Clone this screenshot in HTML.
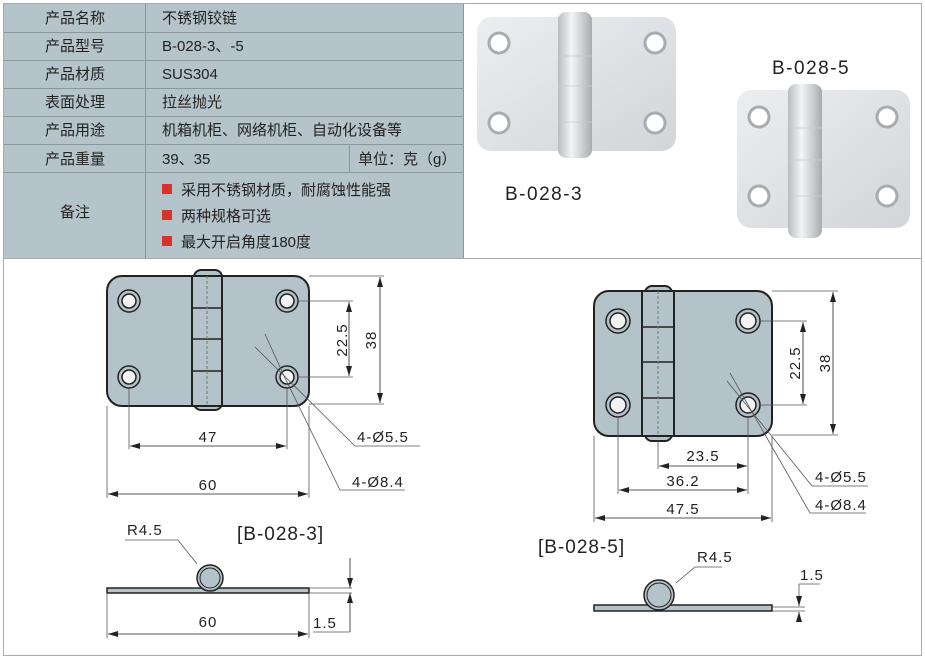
<!DOCTYPE html>
<html><head><meta charset="utf-8"><style>
body{margin:0;background:#fff;}
svg{display:block;font-family:"Liberation Sans","Noto Sans CJK SC",sans-serif;}
</style></head><body>
<svg width="925" height="662" viewBox="0 0 925 662" xmlns="http://www.w3.org/2000/svg">
<defs>
<marker id="a" viewBox="0 0 10 6" refX="10" refY="3" markerWidth="10" markerHeight="6" orient="auto-start-reverse" markerUnits="userSpaceOnUse"><path d="M0,0L10,3L0,6z" fill="#222"/></marker>
<linearGradient id="pl" x1="0" y1="0" x2="1" y2="1"><stop offset="0" stop-color="#eceef0"/><stop offset="1" stop-color="#d2d5d8"/></linearGradient>
<linearGradient id="kn" x1="0" y1="0" x2="1" y2="0"><stop offset="0" stop-color="#b9bcbf"/><stop offset="0.4" stop-color="#f3f4f5"/><stop offset="1" stop-color="#a9acaf"/></linearGradient>
</defs>
<!-- outer border -->
<rect x="3.5" y="3.5" width="918" height="652" fill="none" stroke="#aaa"/>
<line x1="3" y1="258.5" x2="922" y2="258.5" stroke="#aaa"/>
<!-- table -->
<rect x="4" y="4" width="459" height="254" fill="#b5c3ca"/>
<g stroke="#8c979d" stroke-width="1">
<line x1="4" y1="32.5" x2="463" y2="32.5"/><line x1="4" y1="60.5" x2="463" y2="60.5"/><line x1="4" y1="88.5" x2="463" y2="88.5"/><line x1="4" y1="116.5" x2="463" y2="116.5"/><line x1="4" y1="144.5" x2="463" y2="144.5"/><line x1="4" y1="172.5" x2="463" y2="172.5"/>
<line x1="145.5" y1="4" x2="145.5" y2="258"/><line x1="349.5" y1="144" x2="349.5" y2="172"/><line x1="463.5" y1="4" x2="463.5" y2="258"/>
</g>
<g font-size="15" fill="#222">
<text x="75" y="23" text-anchor="middle">产品名称</text><text x="162" y="23">不锈钢铰链</text>
<text x="75" y="51" text-anchor="middle">产品型号</text><text x="162" y="51">B-028-3、-5</text>
<text x="75" y="79" text-anchor="middle">产品材质</text><text x="162" y="79">SUS304</text>
<text x="75" y="107" text-anchor="middle">表面处理</text><text x="162" y="107">拉丝抛光</text>
<text x="75" y="135" text-anchor="middle">产品用途</text><text x="162" y="135">机箱机柜、网络机柜、自动化设备等</text>
<text x="75" y="164" text-anchor="middle">产品重量</text><text x="162" y="164">39、35</text><text x="358" y="164">单位：克（g）</text>
<text x="75" y="217" text-anchor="middle">备注</text>
<rect x="162" y="184" width="10" height="10" fill="#d5342a"/><text x="181" y="195">采用不锈钢材质，耐腐蚀性能强</text>
<rect x="162" y="210" width="10" height="10" fill="#d5342a"/><text x="181" y="221">两种规格可选</text>
<rect x="162" y="236" width="10" height="10" fill="#d5342a"/><text x="181" y="247">最大开启角度180度</text>
</g>
<!-- photos -->
<g>
<rect x="477" y="17" width="199" height="134" rx="14" fill="url(#pl)"/>
<rect x="558" y="12" width="34" height="146" rx="8" fill="url(#kn)"/>
<g stroke="#c9cbcd" stroke-width="0.8"><line x1="558" y1="56" x2="592" y2="56"/><line x1="558" y1="86" x2="592" y2="86"/><line x1="558" y1="122" x2="592" y2="122"/></g>
<g fill="#fff" stroke="#a9acaf" stroke-width="3"><circle cx="499" cy="43" r="10"/><circle cx="655" cy="43" r="10"/><circle cx="499" cy="123" r="10"/><circle cx="655" cy="123" r="10"/></g>
<rect x="737" y="90" width="173" height="138" rx="14" fill="url(#pl)"/>
<rect x="788" y="84" width="34" height="154" rx="8" fill="url(#kn)"/>
<g stroke="#c9cbcd" stroke-width="0.8"><line x1="788" y1="128" x2="822" y2="128"/><line x1="788" y1="160" x2="822" y2="160"/><line x1="788" y1="196" x2="822" y2="196"/></g>
<g fill="#fff" stroke="#a9acaf" stroke-width="3"><circle cx="759" cy="117" r="10"/><circle cx="887" cy="117" r="10"/><circle cx="759" cy="196" r="10"/><circle cx="887" cy="196" r="10"/></g>
<text x="505" y="200" font-size="19" fill="#222" letter-spacing="1.5">B-028-3</text>
<text x="772" y="74" font-size="19" fill="#222" letter-spacing="1.5">B-028-5</text>
</g>
<!-- drawing 1 -->
<g stroke="#222" stroke-width="2" fill="#b4c2c9">
<rect x="107" y="276" width="202" height="130" rx="15"/>
<rect x="194" y="270" width="28" height="140" rx="7"/>
<rect x="192" y="276" width="30" height="130"/>
</g>
<g stroke="#222" stroke-width="1.5"><line x1="192" y1="308" x2="222" y2="308"/><line x1="192" y1="339" x2="222" y2="339"/><line x1="192" y1="371" x2="222" y2="371"/></g>
<line x1="207" y1="276" x2="207" y2="406" stroke="#777" stroke-dasharray="3,2"/>
<g stroke="#222" stroke-width="1.5"><circle cx="129" cy="301" r="11" fill="#b4c2c9"/><circle cx="129" cy="301" r="7" fill="#f2f2f2"/><circle cx="287" cy="301" r="11" fill="#b4c2c9"/><circle cx="287" cy="301" r="7" fill="#f2f2f2"/><circle cx="129" cy="377" r="11" fill="#b4c2c9"/><circle cx="129" cy="377" r="7" fill="#f2f2f2"/><circle cx="287" cy="377" r="11" fill="#b4c2c9"/><circle cx="287" cy="377" r="7" fill="#f2f2f2"/></g>
<g stroke="#555" stroke-width="0.8" fill="none">
<line x1="309" y1="276" x2="384" y2="276"/><line x1="309" y1="404" x2="384" y2="404"/><line x1="298" y1="301" x2="353" y2="301"/><line x1="298" y1="377" x2="353" y2="377"/>
<line x1="129" y1="388" x2="129" y2="449"/><line x1="287" y1="388" x2="287" y2="449"/><line x1="107" y1="406" x2="107" y2="498"/><line x1="309" y1="406" x2="309" y2="498"/>
<line x1="380" y1="277" x2="380" y2="403" stroke="#222" marker-start="url(#a)" marker-end="url(#a)"/>
<line x1="349" y1="302" x2="349" y2="376" stroke="#222" marker-start="url(#a)" marker-end="url(#a)"/>
<line x1="130" y1="446" x2="286" y2="446" stroke="#222" marker-start="url(#a)" marker-end="url(#a)"/>
<line x1="108" y1="494" x2="308" y2="494" stroke="#222" marker-start="url(#a)" marker-end="url(#a)"/>
<polyline points="255,347 355,446 420,446"/><polyline points="265,334 285,378 340,490 405,490"/>
</g>
<g font-size="15" fill="#222" letter-spacing="1">
<text x="208" y="442" text-anchor="middle">47</text><text x="208" y="490" text-anchor="middle">60</text>
<text transform="translate(347,340) rotate(-90)" text-anchor="middle">22.5</text><text transform="translate(376,340) rotate(-90)" text-anchor="middle">38</text>
<text x="357" y="442">4-Ø5.5</text><text x="352" y="487">4-Ø8.4</text>
</g>
<!-- drawing 2 -->
<g stroke="#222" stroke-width="2" fill="#b4c2c9">
<rect x="594" y="291" width="178" height="145" rx="15"/>
<rect x="645" y="286" width="27" height="155" rx="7"/>
<rect x="642" y="291" width="32" height="145"/>
</g>
<g stroke="#222" stroke-width="1.5"><line x1="642" y1="327" x2="674" y2="327"/><line x1="642" y1="362" x2="674" y2="362"/><line x1="642" y1="398" x2="674" y2="398"/></g>
<line x1="658" y1="291" x2="658" y2="436" stroke="#777" stroke-dasharray="3,2"/>
<g stroke="#222" stroke-width="1.5"><circle cx="618" cy="321" r="12" fill="#b4c2c9"/><circle cx="618" cy="321" r="8" fill="#f2f2f2"/><circle cx="748" cy="321" r="12" fill="#b4c2c9"/><circle cx="748" cy="321" r="8" fill="#f2f2f2"/><circle cx="618" cy="405" r="12" fill="#b4c2c9"/><circle cx="618" cy="405" r="8" fill="#f2f2f2"/><circle cx="748" cy="405" r="12" fill="#b4c2c9"/><circle cx="748" cy="405" r="8" fill="#f2f2f2"/></g>
<g stroke="#555" stroke-width="0.8" fill="none">
<line x1="772" y1="291" x2="838" y2="291"/><line x1="772" y1="435" x2="838" y2="435"/><line x1="760" y1="321" x2="807" y2="321"/><line x1="760" y1="405" x2="807" y2="405"/>
<line x1="658" y1="441" x2="658" y2="469"/><line x1="748" y1="417" x2="748" y2="494"/><line x1="618" y1="417" x2="618" y2="494"/><line x1="594" y1="436" x2="594" y2="522"/><line x1="772" y1="436" x2="772" y2="522"/>
<line x1="833" y1="292" x2="833" y2="434" stroke="#222" marker-start="url(#a)" marker-end="url(#a)"/>
<line x1="803" y1="322" x2="803" y2="404" stroke="#222" marker-start="url(#a)" marker-end="url(#a)"/>
<line x1="659" y1="466" x2="747" y2="466" stroke="#222" marker-start="url(#a)" marker-end="url(#a)"/>
<line x1="619" y1="490" x2="747" y2="490" stroke="#222" marker-start="url(#a)" marker-end="url(#a)"/>
<line x1="595" y1="518" x2="771" y2="518" stroke="#222" marker-start="url(#a)" marker-end="url(#a)"/>
<polyline points="727,381 812,486 868,486"/><polyline points="730,373 748,405 810,513 866,513"/>
</g>
<g font-size="15" fill="#222" letter-spacing="1">
<text x="703" y="461" text-anchor="middle">23.5</text><text x="683" y="486" text-anchor="middle">36.2</text><text x="683" y="514" text-anchor="middle">47.5</text>
<text transform="translate(800,363) rotate(-90)" text-anchor="middle">22.5</text><text transform="translate(830,363) rotate(-90)" text-anchor="middle">38</text>
<text x="815" y="482">4-Ø5.5</text><text x="815" y="510">4-Ø8.4</text>
</g>
<!-- side 1 -->
<rect x="107" y="588" width="202" height="5" fill="#b4c2c9" stroke="#222" stroke-width="1.5"/>
<circle cx="210" cy="578" r="13" fill="#b4c2c9" stroke="#222" stroke-width="1.5"/>
<circle cx="210" cy="578" r="10" fill="#b4c2c9" stroke="#222" stroke-width="1"/>
<g stroke="#555" stroke-width="0.8" fill="none">
<polyline points="125,540 178,540 197,564"/>
<line x1="309" y1="588" x2="352" y2="588"/><line x1="309" y1="593" x2="352" y2="593"/>
<line x1="350" y1="558" x2="350" y2="588" stroke="#222" marker-end="url(#a)"/><line x1="350" y1="632" x2="350" y2="593" stroke="#222" marker-end="url(#a)"/>
<line x1="313" y1="632" x2="350" y2="632"/>
<line x1="107" y1="594" x2="107" y2="638"/><line x1="309" y1="594" x2="309" y2="638"/>
<line x1="108" y1="634" x2="308" y2="634" stroke="#222" marker-start="url(#a)" marker-end="url(#a)"/>
</g>
<g font-size="15" fill="#222" letter-spacing="1">
<text x="127" y="535">R4.5</text><text x="208" y="627" text-anchor="middle">60</text><text x="313" y="628">1.5</text>
<text x="237" y="540" font-size="19">[B-028-3]</text>
</g>
<!-- side 2 -->
<rect x="594" y="605" width="178" height="6" fill="#b4c2c9" stroke="#222" stroke-width="1.5"/>
<circle cx="659" cy="595" r="15" fill="#b4c2c9" stroke="#222" stroke-width="1.5"/>
<circle cx="659" cy="595" r="12" fill="#b4c2c9" stroke="#222" stroke-width="1"/>
<g stroke="#555" stroke-width="0.8" fill="none">
<polyline points="722,567 695,567 676,583"/>
<line x1="772" y1="607" x2="805" y2="607"/><line x1="772" y1="611" x2="805" y2="611"/>
<polyline points="820,584 799,584 799,606" /><line x1="799" y1="620" x2="799" y2="612" stroke="#222" marker-end="url(#a)"/><line x1="799" y1="597" x2="799" y2="606" stroke="#222" marker-end="url(#a)"/>
</g>
<g font-size="15" fill="#222" letter-spacing="1">
<text x="697" y="562">R4.5</text><text x="800" y="580">1.5</text>
<text x="538" y="553" font-size="19">[B-028-5]</text>
</g>
</svg>
</body></html>
